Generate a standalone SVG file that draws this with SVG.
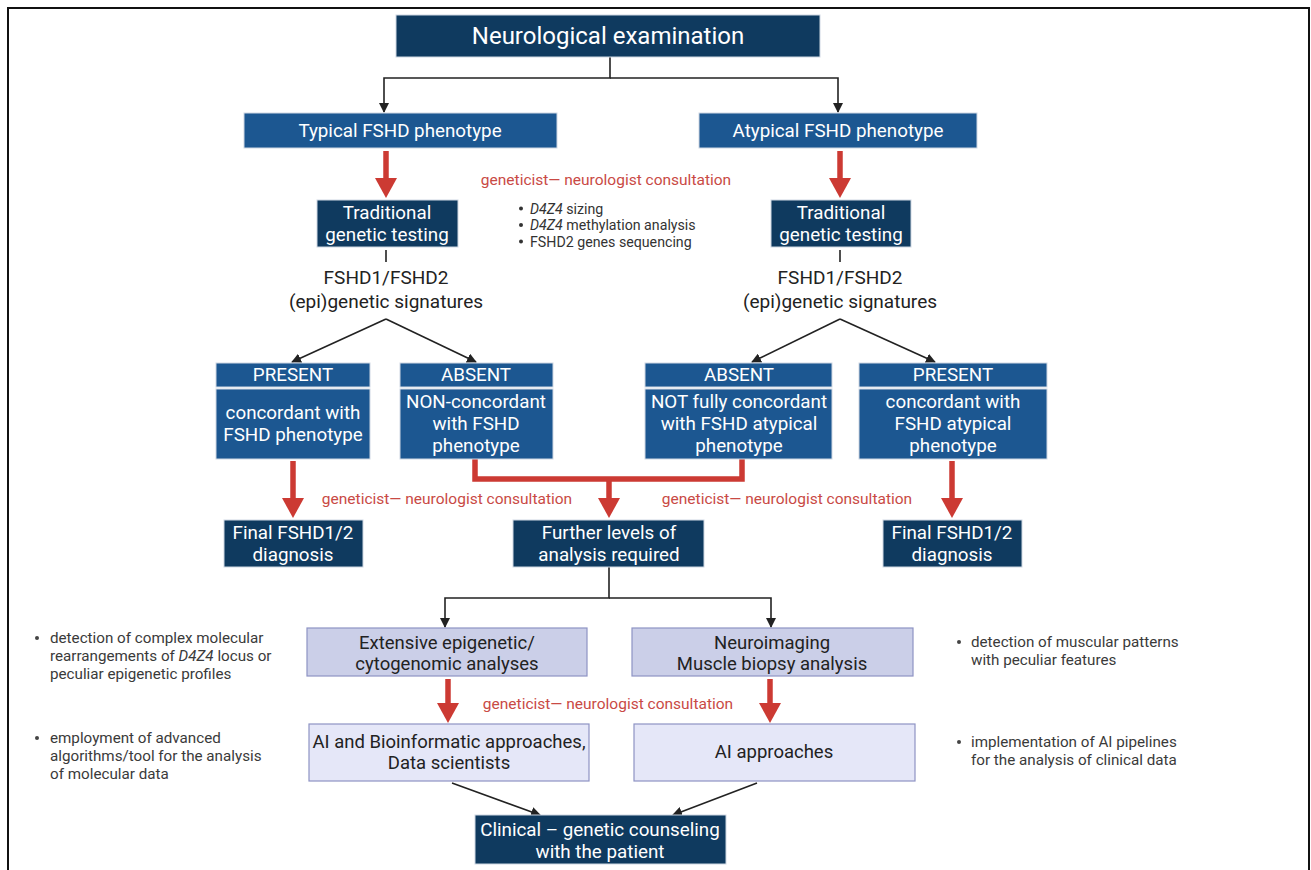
<svg xmlns="http://www.w3.org/2000/svg" width="1311" height="870" viewBox="0 0 1311 870">
<defs>
<marker id="ah" viewBox="0 0 10 10" refX="9" refY="5" markerWidth="10" markerHeight="10" markerUnits="userSpaceOnUse" orient="auto">
<path d="M0,0 L10,5 L0,10 z" fill="#222"/>
</marker>
</defs>
<style>
text{font-family:Roboto,"Liberation Sans",sans-serif;text-anchor:middle}
.t{fill:#fff;font-size:18.8px}
.big{fill:#fff;font-size:24px}
.blk{fill:#222;font-size:18.5px}
.sig{fill:#222;font-size:19px}
.red{fill:#c94a45;font-size:15.5px}
.note{fill:#3a3a3a;font-size:15.2px;text-anchor:start}
.bt{fill:#333;font-size:14.2px;text-anchor:start}
.navy{fill:#0f3a5f;stroke:#cfd8e3;stroke-width:1}
.mid{fill:#1c5791;stroke:#cfd8e3;stroke-width:1}
.lav{fill:#cbcfe8;stroke:#8e93c4;stroke-width:1.2}
.lav2{fill:#e5e7f8;stroke:#8e93c4;stroke-width:1.2}
.con{fill:none;stroke:#222;stroke-width:1.6}
.rl{fill:none;stroke:#cc3a33;stroke-width:5.5}
.rh{fill:#cc3a33}
</style>
<rect x="8" y="8" width="1301" height="880" fill="#fff" stroke="#111" stroke-width="2"/>

<g id="connectors">
<path class="con" d="M610,57 V78 H384 V112" marker-end="url(#ah)"/>
<path class="con" d="M610,78 H838 V112" marker-end="url(#ah)"/>
<path class="con" d="M386,250 V262"/>
<path class="con" d="M840,250 V262"/>
<path class="con" d="M386,319 L292,362" marker-end="url(#ah)"/>
<path class="con" d="M386,319 L476,362" marker-end="url(#ah)"/>
<path class="con" d="M840,319 L752,362" marker-end="url(#ah)"/>
<path class="con" d="M840,319 L935,362" marker-end="url(#ah)"/>
<path class="con" d="M609,567 V598 H445 V627" marker-end="url(#ah)"/>
<path class="con" d="M609,598 H771 V627" marker-end="url(#ah)"/>
<path class="con" d="M452,783 L540,815" marker-end="url(#ah)"/>
<path class="con" d="M757,783 L673,815" marker-end="url(#ah)"/>
<path class="rl" d="M386,151 V180"/><path class="rh" d="M375,178 H397 L386,198 z"/>
<path class="rl" d="M840,151 V180"/><path class="rh" d="M829,178 H851 L840,198 z"/>
<path class="rl" d="M293,461 V500"/><path class="rh" d="M282,498 H304 L293,518 z"/>
<path class="rl" d="M952,461 V500"/><path class="rh" d="M941,498 H963 L952,518 z"/>
<path class="rl" d="M475,459 V479 H742 V459"/>
<path class="rl" d="M609,479 V500"/><path class="rh" d="M598,498 H620 L609,518 z"/>
<path class="rl" d="M448,679 V705"/><path class="rh" d="M437,703 H459 L448,723 z"/>
<path class="rl" d="M770,679 V705"/><path class="rh" d="M759,703 H781 L770,723 z"/>
</g>

<g id="n-neuro"><rect class="navy" x="396" y="15" width="424" height="42"/><text class="big" x="608" y="44">Neurological examination</text></g>
<g id="n-typical"><rect class="mid" x="244" y="113" width="313" height="35"/><text class="t" x="400" y="137">Typical FSHD phenotype</text></g>
<g id="n-atypical"><rect class="mid" x="699" y="113" width="278" height="35"/><text class="t" x="838" y="137">Atypical FSHD phenotype</text></g>

<g id="c-top"><text class="red" x="606" y="185">geneticist— neurologist consultation</text></g>
<g id="n-bullets-top">
<circle cx="521" cy="208.5" r="2" fill="#333"/><text class="bt" x="530" y="213.5"><tspan font-style="italic">D4Z4</tspan> sizing</text>
<circle cx="521" cy="225" r="2" fill="#333"/><text class="bt" x="530" y="230"><tspan font-style="italic">D4Z4</tspan> methylation analysis</text>
<circle cx="521" cy="241.5" r="2" fill="#333"/><text class="bt" x="530" y="246.5">FSHD2 genes sequencing</text>
</g>

<g id="n-trad-l"><rect class="navy" x="317" y="200" width="141" height="47"/><text class="t" x="387" y="219">Traditional</text><text class="t" x="387" y="241">genetic testing</text></g>
<g id="n-trad-r"><rect class="navy" x="771" y="200" width="140" height="47"/><text class="t" x="841" y="219">Traditional</text><text class="t" x="841" y="241">genetic testing</text></g>

<g id="n-sig-l"><text class="sig" x="386" y="284">FSHD1/FSHD2</text><text class="sig" x="386" y="308">(epi)genetic signatures</text></g>
<g id="n-sig-r"><text class="sig" x="840" y="284">FSHD1/FSHD2</text><text class="sig" x="840" y="308">(epi)genetic signatures</text></g>

<g id="n-present-l"><rect class="mid" x="216" y="363" width="154" height="24"/><rect class="mid" x="216" y="389" width="154" height="70"/>
<text class="t" x="293" y="381">PRESENT</text><text class="t" x="293" y="419">concordant with</text><text class="t" x="293" y="441">FSHD phenotype</text></g>
<g id="n-absent-l"><rect class="mid" x="400" y="363" width="153" height="24"/><rect class="mid" x="400" y="389" width="153" height="70"/>
<text class="t" x="476" y="381">ABSENT</text><text class="t" x="476" y="408">NON-concordant</text><text class="t" x="476" y="430">with FSHD</text><text class="t" x="476" y="452">phenotype</text></g>
<g id="n-absent-r"><rect class="mid" x="645" y="363" width="187" height="24"/><rect class="mid" x="645" y="389" width="187" height="70"/>
<text class="t" x="739" y="381">ABSENT</text><text class="t" x="739" y="408">NOT fully concordant</text><text class="t" x="739" y="430">with FSHD atypical</text><text class="t" x="739" y="452">phenotype</text></g>
<g id="n-present-r"><rect class="mid" x="859" y="363" width="188" height="24"/><rect class="mid" x="859" y="389" width="188" height="70"/>
<text class="t" x="953" y="381">PRESENT</text><text class="t" x="953" y="408">concordant with</text><text class="t" x="953" y="430">FSHD atypical</text><text class="t" x="953" y="452">phenotype</text></g>

<g id="c-mid"><text class="red" x="447" y="504">geneticist— neurologist consultation</text><text class="red" x="787" y="504">geneticist— neurologist consultation</text></g>

<g id="n-final-l"><rect class="navy" x="224" y="520" width="139" height="47"/><text class="t" x="293" y="539">Final FSHD1/2</text><text class="t" x="293" y="561">diagnosis</text></g>
<g id="n-further"><rect class="navy" x="513" y="520" width="191" height="47"/><text class="t" x="609" y="539">Further levels of</text><text class="t" x="609" y="561">analysis required</text></g>
<g id="n-final-r"><rect class="navy" x="883" y="520" width="139" height="47"/><text class="t" x="952" y="539">Final FSHD1/2</text><text class="t" x="952" y="561">diagnosis</text></g>

<g id="n-extensive"><rect class="lav" x="307" y="628" width="280" height="48"/><text class="blk" x="447" y="649">Extensive epigenetic/</text><text class="blk" x="447" y="670">cytogenomic analyses</text></g>
<g id="n-neuroimg"><rect class="lav" x="632" y="628" width="281" height="48"/><text class="blk" x="772" y="649">Neuroimaging</text><text class="blk" x="772" y="670">Muscle biopsy analysis</text></g>

<g id="c-low"><text class="red" x="608" y="709">geneticist— neurologist consultation</text></g>

<g id="n-aibio"><rect class="lav2" x="309" y="724" width="280" height="57"/><text class="blk" x="449" y="748" font-size="18px">AI and Bioinformatic approaches,</text><text class="blk" x="449" y="769" font-size="18px">Data scientists</text></g>
<g id="n-ai"><rect class="lav2" x="634" y="724" width="281" height="57"/><text class="blk" x="774" y="758" font-size="18px">AI approaches</text></g>

<g id="n-clinical"><rect class="navy" x="475" y="815" width="251" height="49"/><text class="t" x="600" y="836" font-size="18px">Clinical – genetic counseling</text><text class="t" x="600" y="858" font-size="18px">with the patient</text></g>

<g id="n-notes-l">
<circle cx="37" cy="638" r="2" fill="#444"/>
<text class="note" x="50" y="643">detection of complex molecular</text>
<text class="note" x="50" y="661">rearrangements of <tspan font-style="italic">D4Z4</tspan> locus or</text>
<text class="note" x="50" y="679">peculiar epigenetic profiles</text>
<circle cx="37" cy="738" r="2" fill="#444"/>
<text class="note" x="50" y="743">employment of advanced</text>
<text class="note" x="50" y="761">algorithms/tool for the analysis</text>
<text class="note" x="50" y="779">of molecular data</text>
</g>
<g id="n-notes-r">
<circle cx="959" cy="642" r="2" fill="#444"/>
<text class="note" x="971" y="647">detection of muscular patterns</text>
<text class="note" x="971" y="665">with peculiar features</text>
<circle cx="959" cy="742" r="2" fill="#444"/>
<text class="note" x="971" y="747">implementation of AI pipelines</text>
<text class="note" x="971" y="765">for the analysis of clinical data</text>
</g>
</svg>
